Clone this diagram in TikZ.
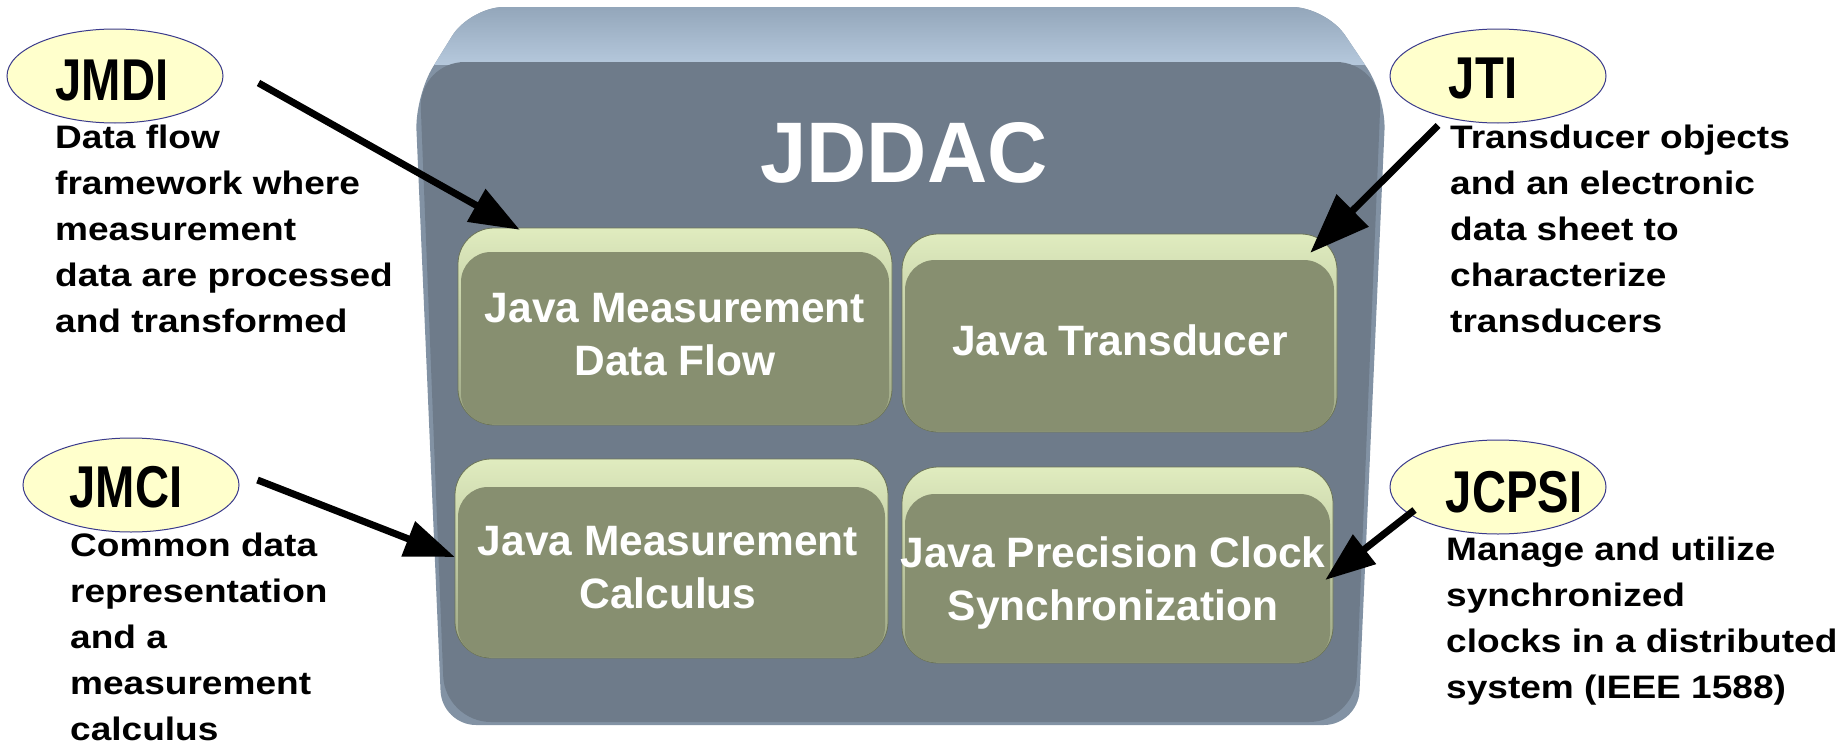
\documentclass[tikz,border=0pt]{standalone}
\usepackage{fontspec}
\setmainfont{Liberation Sans}
\newfontfamily\descfont{Liberation Sans}[FakeStretch=1.14]
\newfontfamily\tagfont{Liberation Sans}[FakeStretch=0.8]
\newfontfamily\titlefont{Liberation Sans}[FakeStretch=0.97]
\usetikzlibrary{arrows.meta,shapes.geometric,calc}
\definecolor{slate}{HTML}{6E7B8A}
\definecolor{slatetop}{HTML}{8FA2B6}
\definecolor{slatelight}{HTML}{B5C8DC}
\definecolor{slaterim}{HTML}{8292A4}
\definecolor{olive}{HTML}{878F70}
\definecolor{olivelight}{HTML}{E0ECBF}
\definecolor{oliverim}{HTML}{9CA584}
\definecolor{oliveedge}{HTML}{6C7458}
\definecolor{tagfill}{HTML}{FFFFCC}
\definecolor{tagline}{HTML}{3A3A8C}
\begin{document}
\begin{tikzpicture}[x=1pt,y=-1pt,
  tagshape/.style={ellipse, draw=tagline, line width=1pt, fill=tagfill, minimum width=216pt, minimum height=94pt, inner sep=0pt},
  tagtext/.style={anchor=base, inner sep=0pt, font=\tagfont\bfseries\fontsize{59}{70}\selectfont},
  desctext/.style={anchor=base west, inner sep=0pt, font=\descfont\bfseries\fontsize{32.5}{46}\selectfont},
  boxtext/.style={anchor=base, inner sep=0pt, text=white, font=\bfseries\fontsize{42.5}{53}\selectfont},
  titletext/.style={anchor=base, inner sep=0pt, text=white, font=\titlefont\bfseries\fontsize{86}{100}\selectfont},
  greenshell/.style={top color=olivelight, bottom color=oliverim, draw=oliveedge, line width=0.8pt, rounded corners=36pt},
  greenface/.style={rectangle, rounded corners=30pt, fill=olive, inner sep=0pt},
  pointer/.style={draw=black, line width=7pt, -{Triangle[length=50pt,width=36pt]}},
  bigpointer/.style={draw=black, line width=7pt, -{Triangle[length=60pt,width=44pt]}},
]
\fill[white] (0,0) rectangle (1846,744);
\useasboundingbox (0,0) rectangle (1846,744);

% big JDDAC box
\begin{scope}
  \clip[rounded corners=34pt] (470,7) -- (1326,7) -- (1386,96) -- (1358,725) -- (442,725) -- (415,96) -- cycle;
  \fill[slaterim] (400,0) rectangle (1400,744);
  \shade[top color=slatetop, bottom color=slatelight] (400,0) rectangle (1400,64);
  \fill[slate, rounded corners=46pt] (419,62) -- (1382,62) -- (1355,722) -- (445,722) -- cycle;
\end{scope}
\node[titletext] (title) at (904,182) {JDDAC};

% inner boxes
\shade[greenshell] (458,228) rectangle (892,425);
\node[greenface, minimum width=428pt, minimum height=172pt] (b1) at (675,338) {};
\shade[greenshell] (902,234) rectangle (1337,432);
\node[greenface, minimum width=429pt, minimum height=171pt] (b2) at (1119.5,345.5) {};
\shade[greenshell] (455,459) rectangle (888,658);
\node[greenface, minimum width=427pt, minimum height=170pt] (b3) at (671.5,572) {};
\shade[greenshell] (902,467) rectangle (1333,663);
\node[greenface, minimum width=425pt, minimum height=168pt] (b4) at (1117.5,578) {};

\node[boxtext] (b1t) at (675,322) {\begin{tabular}[t]{@{}c@{}}Java Measurement\\Data Flow\end{tabular}};
\node[boxtext] (b2t) at (1120,355) {Java Transducer};
\node[boxtext] (b3t) at (668,555) {\begin{tabular}[t]{@{}c@{}}Java Measurement\\Calculus\end{tabular}};
\node[boxtext] (b4t) at (1113,567) {\begin{tabular}[t]{@{}c@{}}Java Precision Clock\\Synchronization\end{tabular}};

% tags
\node[tagshape] (e1) at (115,76) {};
\node[tagshape] (e2) at (1498,76) {};
\node[tagshape] (e3) at (131,485) {};
\node[tagshape] (e4) at (1498,487) {};
\node[tagtext] (t1) at (112,100) {JMDI};
\node[tagtext] (t2) at (1483,98) {JTI};
\node[tagtext] (t3) at (126,507) {JMCI};
\node[tagtext] (t4) at (1514,512) {JCPSI};

% descriptions
\node[desctext] (d1) at (55,148) {\begin{tabular}[t]{@{}l@{}}Data flow\\framework where\\measurement\\data are processed\\and transformed\end{tabular}};
\node[desctext] (d2) at (1450,148) {\begin{tabular}[t]{@{}l@{}}Transducer objects\\and an electronic\\data sheet to\\characterize\\transducers\end{tabular}};
\node[desctext] (d3) at (70,556) {\begin{tabular}[t]{@{}l@{}}Common data\\representation\\and a\\measurement\\calculus\end{tabular}};
\node[desctext] (d4) at (1446,560) {\begin{tabular}[t]{@{}l@{}}Manage and utilize\\synchronized\\clocks in a distributed\\system (IEEE 1588)\end{tabular}};

% arrows
\draw[pointer] ($(e1.east)+(35,7)$) -- ($(b1.north west)+(59,-22)$);
\draw[bigpointer] ($(e2.south)+(-60,2)$) -- ($(b2.north east)+(-24,-7)$);
\draw[pointer] ($(e3.east)+(18,-5)$) -- ($(b3.west)+(-3,-15)$);
\draw[pointer] ($(e4.west)+(25,23)$) -- ($(b4.east)+(-5,2)$);
\end{tikzpicture}
\end{document}
